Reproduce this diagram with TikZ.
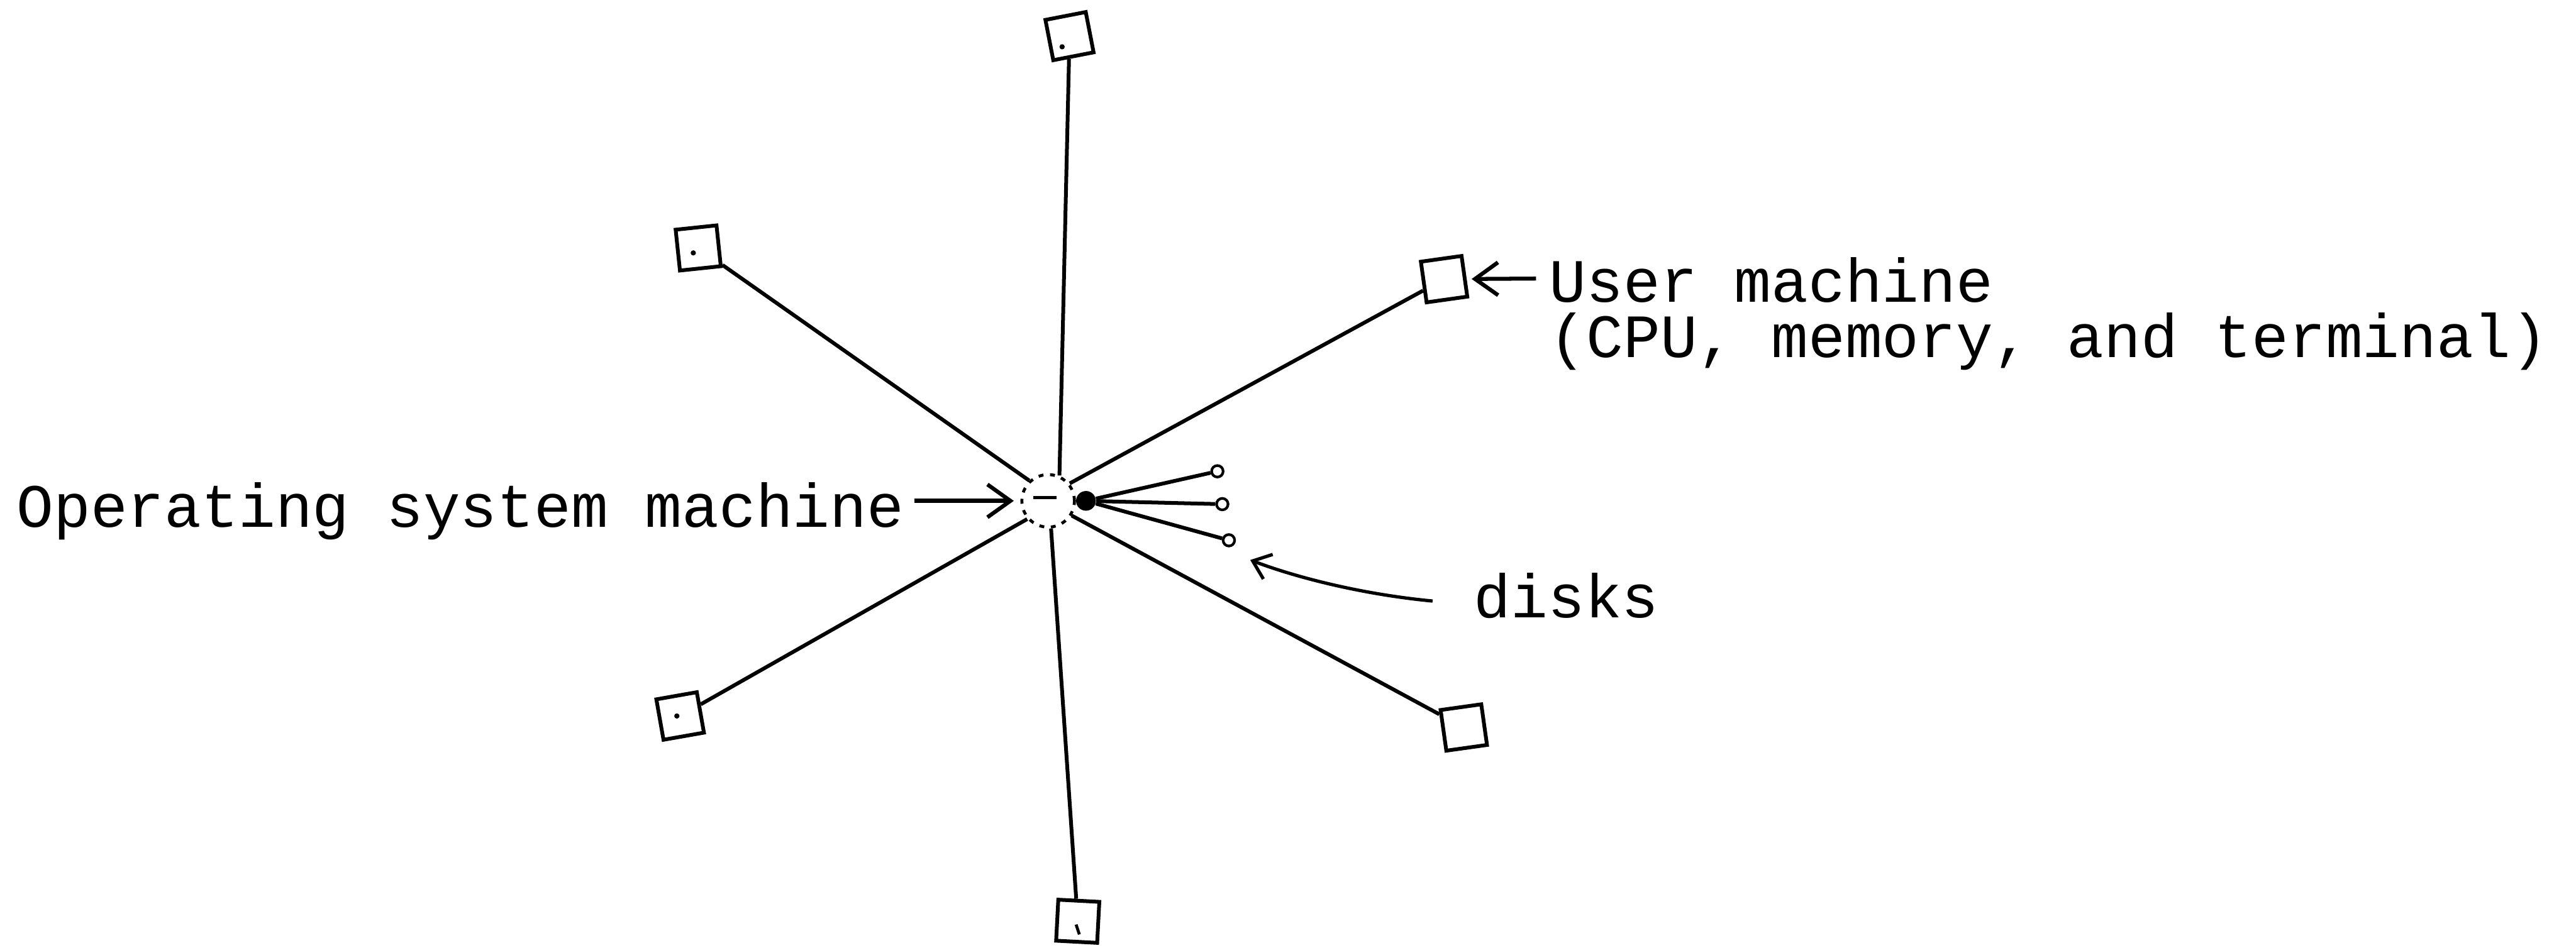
\documentclass[tikz,border=0pt]{standalone}
\usepackage{fontspec}
\newfontfamily\typewriter{Liberation Mono}
\usetikzlibrary{arrows.meta,calc}
\begin{document}
\begin{tikzpicture}[x=1pt,y=-1pt,
  machine/.style={draw,line width=2.3pt,minimum size=25pt,inner sep=0pt},
  link/.style={line width=2.3pt},
  typed/.style={font=\typewriter\fontsize{37.5}{33.5}\selectfont,inner sep=0pt,anchor=base west},
  pointer/.style={line width=2.4pt,-{Straight Barb[length=14pt,width=20pt,line width=2.4pt]}},
  disk/.style={draw,circle,line width=1.6pt,minimum size=7pt,inner sep=0pt},
  dot/.style={circle,fill,minimum size=3.2pt,inner sep=0pt}]
\fill[white] (0,0) rectangle (1568,577);
\useasboundingbox (0,0) rectangle (1568,577);

% user machines around the hub
\node[machine,rotate=11] (top) at (651,22) {};
\node[machine,rotate=6]  (ul)  at (425,151) {};
\node[machine,rotate=8]  (ur)  at (879,170) {};
\node[machine,rotate=10] (ll)  at (414,436) {};
\node[machine,rotate=8]  (lr)  at (891,443) {};
\node[machine,rotate=-3] (bot) at (656,561) {};

% small marks inside some of the boxes
\node[dot] at ($(top.center)+(-4.5,6.5)$) {};
\node[dot] at ($(ul.center)+(-3,3)$) {};
\node[dot] at ($(ll.center)+(-2,0)$) {};
\draw[line width=1.8pt] ($(bot.center)+(-1,2)$) -- ($(bot.center)+(1,8)$);

% operating system machine and its disks
\node[circle,draw,dash pattern=on 3pt off 4pt,line width=1.8pt,minimum size=32pt,inner sep=0pt] (os) at (638,305) {};
\draw[line width=2pt] ($(os.center)+(-9,-2)$) -- ($(os.center)+(5,-2)$);
\node[circle,fill,minimum size=12pt,inner sep=0pt] (hub) at (661,305) {};
\node[disk] (d1) at (741,287) {};
\node[disk] (d2) at (744,307) {};
\node[disk] (d3) at (748,329) {};

% connections
\draw[link] (top) -- (os.66);
\draw[link] (ul)  -- (os.133);
\draw[link] (ur)  -- (os.39);
\draw[link] (ll)  -- (os.221);
\draw[link] (lr)  -- (os.328);
\draw[link] (bot) -- (os.276);
\draw[link] (hub) -- (d1);
\draw[link] (hub) -- (d2);
\draw[link] (hub) -- (d3);

% labels (the two-line label is anchored on its last baseline)
\node[typed] (osm) at (10,321) {Operating system machine};
\node[typed,align=left] (um) at (943,217.5) {User machine\\(CPU, memory, and terminal)};
\node[typed] (dk)  at (897,376) {disks};

% pointers from labels
\coordinate (osmtail) at ($(osm.base east)+(6,-16)$);
\draw[pointer,line width=2.8pt] (osmtail) -- (os) [shorten >=4pt];
\coordinate (umtail) at ($(um.north west)+(-8,13)$);
\draw[pointer] (umtail) -- (ur) [shorten >=3pt];
\coordinate (dktail) at ($(dk.base west)+(-25,-10)$);
\coordinate (dkpt) at ($(d3)+(13,12)$);
\draw[line width=2pt,-{Straight Barb[length=10pt,width=16pt,line width=2pt]}]
  (dktail) .. controls ($(dktail)+(-42,-4)$) and ($(dktail)+(-82,-14)$) .. (dkpt);
\end{tikzpicture}
\end{document}
